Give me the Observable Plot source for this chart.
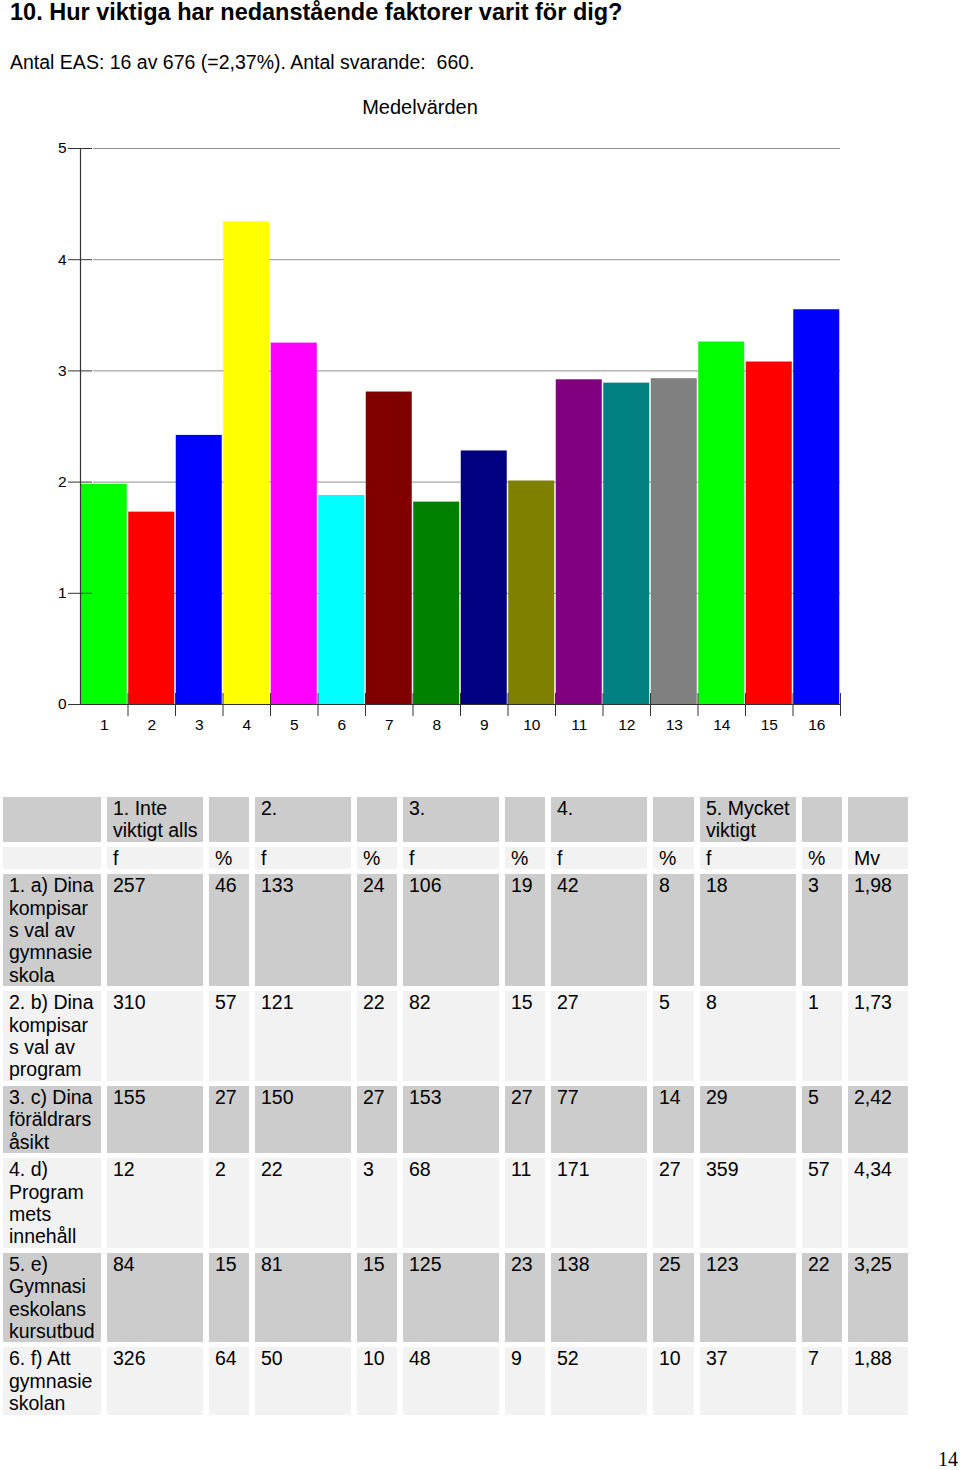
<!DOCTYPE html>
<html>
<head>
<meta charset="utf-8">
<script src="https://cdn.jsdelivr.net/npm/d3@7"></script>
<script src="https://cdn.jsdelivr.net/npm/@observablehq/plot@0.6"></script>
<style>
  html, body { margin: 0; padding: 0; background: #fff; }
  body { width: 960px; height: 1470px; position: relative; font-family: "Liberation Sans", Arial, sans-serif; color: #000; overflow: hidden; }
  .abs { position: absolute; white-space: pre; }
  #title { left: 10px; top: 1px; font-size: 23.5px; font-weight: bold; line-height: 23.5px; }
  #subtitle { left: 10px; top: 53px; font-size: 19.5px; line-height: 19.5px; }
  #chartTitle { left: 0; width: 840px; text-align: center; top: 97px; font-size: 20px; line-height: 20px; }
  #chart { left: 0; top: 130px; }
  #chart svg g[aria-label$="tick label"] text, #chart svg g[aria-label$="tick label"] { font-size: 15.5px; }
  #table { left: 3px; top: 797px; display: grid; column-gap: 6px; row-gap: 5px;
           grid-template-columns: 98px 96px 40px 96px 40px 96px 40px 96px 41px 96px 40px 60px;
           font-size: 19.5px; line-height: 22.4px; white-space: normal; }
  #table div.c { padding-left: 6px; white-space: nowrap; overflow: hidden; }
  .dark { background: #cccccc; }
  .light { background: #f2f2f2; }
  #page { right: 2px; top: 1449px; font-family: "Liberation Serif", "DejaVu Serif", serif; font-size: 20px; line-height: 20px; }
</style>
</head>
<body>
<div id="title" class="abs"></div>
<div id="subtitle" class="abs"></div>
<div id="chartTitle" class="abs"></div>
<div id="chart" class="abs"></div>
<div id="table" class="abs"></div>
<div id="page" class="abs"></div>
<script>
// ---- Texts ----
const titleText = "10. Hur viktiga har nedanstående faktorer varit för dig?";
const subtitleText = "Antal EAS: 16 av 676 (=2,37%). Antal svarande:  660.";
const chartTitleText = "Medelvärden";
const pageNumber = "14";

// ---- Chart data ----
const categories = ["1","2","3","4","5","6","7","8","9","10","11","12","13","14","15","16"];
const means = [1.98, 1.73, 2.42, 4.34, 3.25, 1.88, 2.81, 1.82, 2.28, 2.01, 2.92, 2.89, 2.93, 3.26, 3.08, 3.55];
const barColors = ["#00ff00","#ff0000","#0000ff","#ffff00","#ff00ff","#00ffff","#800000","#008000",
                   "#000080","#808000","#800080","#008080","#808080","#00ff00","#ff0000","#0000ff"];
const yTicks = [0, 1, 2, 3, 4, 5];

// ---- Table data ----
const headerLines = [[""], ["1. Inte", "viktigt alls"], [""], ["2."], [""], ["3."], [""], ["4."], [""], ["5. Mycket", "viktigt"], [""], [""]];
const subHeaders = ["", "f", "%", "f", "%", "f", "%", "f", "%", "f", "%", "Mv"];
const rowLabelLines = [
  ["1. a) Dina", "kompisar", "s val av", "gymnasie", "skola"],
  ["2. b) Dina", "kompisar", "s val av", "program"],
  ["3. c) Dina", "föräldrars", "åsikt"],
  ["4. d)", "Program", "mets", "innehåll"],
  ["5. e)", "Gymnasi", "eskolans", "kursutbud"],
  ["6. f) Att", "gymnasie", "skolan"]
];
const freq1 = [257, 310, 155, 12, 84, 326];
const pct1  = [46, 57, 27, 2, 15, 64];
const freq2 = [133, 121, 150, 22, 81, 50];
const pct2  = [24, 22, 27, 3, 15, 10];
const freq3 = [106, 82, 153, 68, 125, 48];
const pct3  = [19, 15, 27, 11, 23, 9];
const freq4 = [42, 27, 77, 171, 138, 52];
const pct4  = [8, 5, 14, 27, 25, 10];
const freq5 = [18, 8, 29, 359, 123, 37];
const pct5  = [3, 1, 5, 57, 22, 7];
const meanValues = ["1,98", "1,73", "2,42", "4,34", "3,25", "1,88"];

document.getElementById("title").textContent = titleText;
document.getElementById("subtitle").textContent = subtitleText;
document.getElementById("chartTitle").textContent = chartTitleText;
document.getElementById("page").textContent = pageNumber;

// ---- Chart ----
const bars = categories.map((c, i) => ({cat: c, value: means[i], color: barColors[i]}));
const font = "'Liberation Sans', Arial, sans-serif";

const chart = Plot.plot({
  width: 960,
  height: 620,
  marginTop: 18,
  marginBottom: 46,
  marginLeft: 80,
  marginRight: 120,
  style: {fontFamily: font, fontSize: "15.5px", color: "#000", background: "transparent", overflow: "visible"},
  x: {domain: categories, padding: 0, round: false, axis: null},
  y: {domain: [0, 5], axis: null},
  color: {type: "identity"},
  marks: [
    Plot.ruleY(yTicks.slice(1), {y: d => d, stroke: "#8f8f8f", strokeWidth: 1, insetLeft: 13}),
    Plot.barY(bars, {x: "cat", y: "value", fill: "color", insetLeft: 0.75, insetRight: 0.75}),
    Plot.ruleY([0], {stroke: "#333", strokeWidth: 1.2}),
    Plot.frame({anchor: "left", stroke: "#333", strokeWidth: 1.2}),
    Plot.axisY(yTicks, {tickSize: 24, dx: 12, tickPadding: 2, stroke: "#333", fill: "#000", fontSize: 15.5,
                        tickFormat: d => String(d), label: null}),
    Plot.axisX(categories, {tickSize: 23, dx: 23.75, dy: -11, stroke: "#333", tickFormat: () => "", label: null}),
    Plot.axisX(categories, {tickSize: 0, tickPadding: 14, fill: "#000", fontSize: 15.5, label: null})
  ]
});
document.getElementById("chart").appendChild(chart);

// ---- Table ----
const table = document.getElementById("table");
function addCell(lines, cls) {
  const d = document.createElement("div");
  d.className = "c " + cls;
  lines.forEach((l, i) => {
    if (i > 0) d.appendChild(document.createElement("br"));
    d.appendChild(document.createTextNode(l));
  });
  table.appendChild(d);
}
headerLines.forEach(h => addCell(h, "dark"));
subHeaders.forEach(s => addCell([s], "light"));
rowLabelLines.forEach((lab, r) => {
  const cls = r % 2 === 0 ? "dark" : "light";
  const vals = [freq1[r], pct1[r], freq2[r], pct2[r], freq3[r], pct3[r], freq4[r], pct4[r], freq5[r], pct5[r], meanValues[r]];
  addCell(lab, cls);
  vals.forEach(v => addCell([String(v)], cls));
});
</script>
</body>
</html>
